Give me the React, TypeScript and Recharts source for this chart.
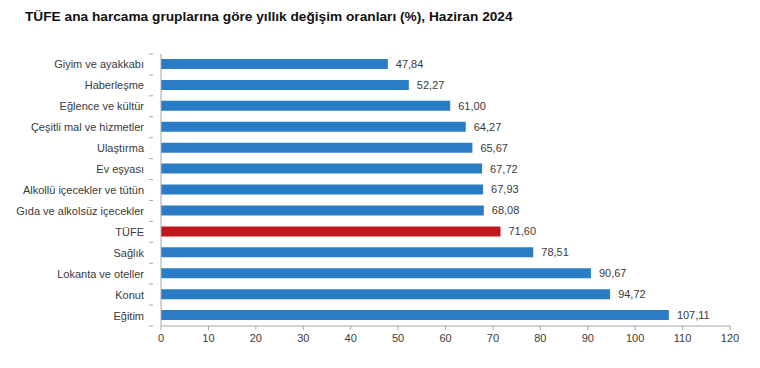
import React from "react";
import { BarChart, Bar, XAxis, YAxis, Cell, LabelList } from "recharts";

const categories = [
  "Giyim ve ayakkabı",
  "Haberleşme",
  "Eğlence ve kültür",
  "Çeşitli mal ve hizmetler",
  "Ulaştırma",
  "Ev eşyası",
  "Alkollü içecekler ve tütün",
  "Gıda ve alkolsüz içecekler",
  "TÜFE",
  "Sağlık",
  "Lokanta ve oteller",
  "Konut",
  "Eğitim",
];
const values = [47.84, 52.27, 61.0, 64.27, 65.67, 67.72, 67.93, 68.08, 71.6, 78.51, 90.67, 94.72, 107.11];
const xTicks = [0, 10, 20, 30, 40, 50, 60, 70, 80, 90, 100, 110, 120];
const highlight = "TÜFE";

const data = categories.map((name, i) => ({ name, value: values[i] }));

const FONT = "'Liberation Sans', Arial, sans-serif";
const TEXT = "#3a3a3a";
const AXIS = "#a6a6a6";

const YTick = (props: any) => {
  const { x, y, payload, index, visibleTicksCount } = props;
  const off = payload.offset || 0;
  const ax = x;
  return (
    <g>
      <line x1={ax - 4} x2={ax} y1={y - off} y2={y - off} stroke={AXIS} />
      {index === visibleTicksCount - 1 && (
        <line x1={ax - 4} x2={ax} y1={y + off} y2={y + off} stroke={AXIS} />
      )}
      <text x={ax - 9} y={y} dy={4} textAnchor="end" fontSize={11} fill={TEXT} fontFamily={FONT}>
        {payload.value}
      </text>
    </g>
  );
};

export default function App() {
  return (
    <div style={{ position: "absolute", left: 0, top: 0, width: 760, height: 368, background: "#fff" }}>
      <div
        style={{
          position: "absolute",
          left: 25,
          top: 9,
          fontFamily: FONT,
          fontWeight: "bold",
          fontSize: 13.7,
          color: "#111",
          whiteSpace: "nowrap",
        }}
      >
        TÜFE ana harcama gruplarına göre yıllık değişim oranları (%), Haziran 2024
      </div>
      <BarChart
        width={760}
        height={368}
        data={data}
        layout="vertical"
        margin={{ top: 54, right: 30, bottom: 0, left: 0 }}
        barSize={10}
      >
        <XAxis
          type="number"
          domain={[0, 120]}
          ticks={xTicks}
          interval={0}
          height={42}
          axisLine={{ stroke: AXIS }}
          tickLine={{ stroke: AXIS }}
          tickSize={4}
          tickMargin={4}
          tick={{ fontSize: 11, fill: TEXT, fontFamily: FONT }}
        />
        <YAxis
          type="category"
          dataKey="name"
          width={161}
          interval={0}
          axisLine={{ stroke: AXIS }}
          tickLine={false}
          tick={<YTick />}
        />
        <Bar dataKey="value" isAnimationActive={false}>
          {data.map((d) => (
            <Cell key={d.name} fill={d.name === highlight ? "#c0161c" : "#2a7cc6"} />
          ))}
          <LabelList
            dataKey="value"
            position="right"
            offset={8}
            formatter={(v: any) => Number(v).toFixed(2).replace(".", ",")}
            style={{ fontSize: 11, fill: TEXT, fontFamily: FONT }}
          />
        </Bar>
      </BarChart>
    </div>
  );
}
